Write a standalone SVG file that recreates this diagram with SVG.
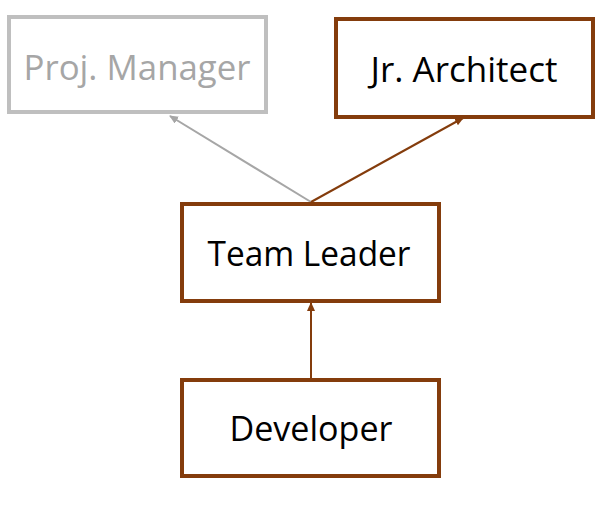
<svg xmlns="http://www.w3.org/2000/svg" width="616" height="512" viewBox="0 0 616 512">
<style>
.box{fill:#fff;stroke-width:4}
.brown{stroke:#843c0c}
.gray{stroke:#bfbfbf}
.lbl{font-family:"Open Sans","Liberation Sans",sans-serif;font-size:35px;text-anchor:middle}
.conn{fill:none;stroke-width:2}
</style>
<defs>
<marker id="ab" markerUnits="userSpaceOnUse" markerWidth="10" markerHeight="10" refX="8" refY="4" orient="auto"><path d="M0,0 L9,4 L0,8 z" fill="#843c0c"/></marker>
<marker id="ag" markerUnits="userSpaceOnUse" markerWidth="10" markerHeight="10" refX="8" refY="4" orient="auto"><path d="M0,0 L9,4 L0,8 z" fill="#a6a6a6"/></marker>
</defs>
<rect width="616" height="512" fill="#fff"/>
<g id="connectors">
<line class="conn" x1="311" y1="202" x2="170" y2="116" stroke="#a6a6a6" marker-end="url(#ag)"/>
<line class="conn" x1="311" y1="202" x2="463" y2="118" stroke="#843c0c" marker-end="url(#ab)"/>
<line class="conn" x1="311" y1="378" x2="311" y2="303" stroke="#843c0c" marker-end="url(#ab)"/>
</g>
<g id="proj-manager">
<rect class="box gray" x="9" y="17" width="257" height="95"/>
<text class="lbl" x="137" y="80" fill="#a6a6a6" textLength="227" lengthAdjust="spacingAndGlyphs">Proj. Manager</text>
</g>
<g id="jr-architect">
<rect class="box brown" x="336" y="19" width="257" height="98"/>
<text class="lbl" x="464" y="82" fill="#000" textLength="187" lengthAdjust="spacingAndGlyphs">Jr. Architect</text>
</g>
<g id="team-leader">
<rect class="box brown" x="182" y="204" width="257" height="97"/>
<text class="lbl" x="309" y="266" fill="#000" textLength="203" lengthAdjust="spacingAndGlyphs">Team Leader</text>
</g>
<g id="developer">
<rect class="box brown" x="182" y="380" width="257" height="96"/>
<text class="lbl" x="311" y="441" fill="#000" textLength="163" lengthAdjust="spacingAndGlyphs">Developer</text>
</g>
</svg>
